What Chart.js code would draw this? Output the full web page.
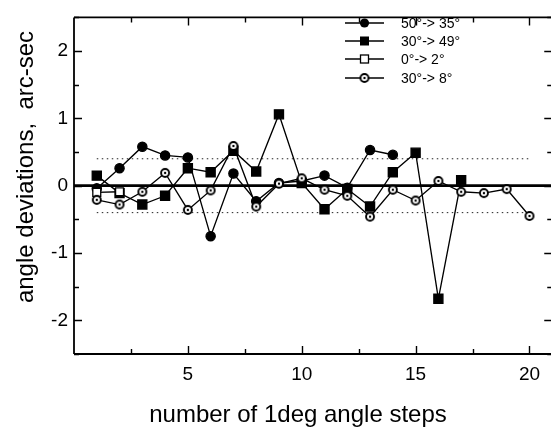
<!DOCTYPE html>
<html><head><meta charset="utf-8">
<script src="https://cdn.jsdelivr.net/npm/chart.js@4.4.0/dist/chart.umd.min.js"></script>
<style>
html,body{margin:0;padding:0;background:#fff;overflow:hidden;width:551px;height:429px}
#wrap{position:relative;width:560px;height:429px}
</style>
</head><body><div id="wrap"><canvas id="c" width="560" height="429"></canvas></div>
<script>
// ---- data ----
const stepsA = [1,2,3,4,5,6,7,8,9,10,11,12,13,14];                 // 50° -> 35°
const dev50to35 = [-0.04,0.26,0.58,0.45,0.42,-0.75,0.18,-0.23,0.04,0.07,0.15,-0.03,0.53,0.46];
const stepsB = [1,2,3,4,5,6,7,8,9,10,11,12,13,14,15,16,17];      // 30° -> 49°
const dev30to49 = [0.15,-0.11,-0.28,-0.15,0.26,0.2,0.52,0.21,1.06,0.04,-0.35,-0.05,-0.31,0.2,0.49,-1.68,0.08];
const stepsC = [1,2];                                             // 0° -> 2°
const dev0to2 = [-0.1,-0.09];
const stepsD = [1,2,3,4,5,6,7,8,9,10,11,12,13,14,15,16,17,18,19,20]; // 30° -> 8°
const dev30to8 = [-0.21,-0.28,-0.09,0.19,-0.36,-0.07,0.59,-0.31,0.03,0.11,-0.06,-0.15,-0.46,-0.06,-0.22,0.07,-0.09,-0.11,-0.05,-0.45];
const seriesNames = ['50°-> 35°','30°-> 49°','0°-> 2°','30°-> 8°'];
const bandLimits = [0.4,-0.4];
const bandSteps = [1,20];
const zeroSteps = [0,21];
const xTickLabels = [5,10,15,20];
const yTickLabels = [-2,-1,0,1,2];
const xTitle = 'number of 1deg angle steps';
const yTitle = 'angle deviations,  arc-sec';

const FONT = "'Liberation Sans', Arial, sans-serif";
const pts = (xs, ys) => xs.map((x,i)=>({x, y: ys[i]}));

// circle with centre dot marker
function dotCircle(r){
  const c = document.createElement('canvas');
  const s = Math.ceil(r*2+4); c.width = s; c.height = s;
  const g = c.getContext('2d');
  g.beginPath(); g.arc(s/2, s/2, r, 0, Math.PI*2);
  g.fillStyle = '#fff'; g.fill(); g.lineWidth = 1.9; g.strokeStyle = '#000'; g.stroke();
  g.beginPath(); g.arc(s/2, s/2, 1.2, 0, Math.PI*2); g.fillStyle='#000'; g.fill();
  return c;
}
const dotImg = dotCircle(4);

const base = {borderColor:'#000', borderWidth:1.35, tension:0, showLine:true, fill:false};
const datasets = [
  {...base, label: seriesNames[0], data: pts(stepsA, dev50to35), pointStyle:'circle', pointRadius:4.6, backgroundColor:'#000', pointBorderColor:'#000', order:4},
  {...base, label: seriesNames[1], data: pts(stepsB, dev30to49), pointStyle:'rect', pointRadius:6.4, backgroundColor:'#000', pointBorderColor:'#000', order:3},
  {...base, label: seriesNames[2], data: pts(stepsC, dev0to2), pointStyle:'rect', pointRadius:5.6, backgroundColor:'#fff', pointBorderColor:'#000', pointBorderWidth:1.3, order:2},
  {...base, label: seriesNames[3], data: pts(stepsD, dev30to8), pointStyle: dotImg, pointRadius:4, backgroundColor:'#fff', order:1},
  {label:'zero', data: pts(zeroSteps, [0,0]), borderColor:'#000', borderWidth:2.8, pointRadius:0, showLine:true, order:10},
  {label:'band+', data: pts(bandSteps, [bandLimits[0],bandLimits[0]]), borderColor:'#222', borderWidth:1, borderDash:[1.5,3.5], pointRadius:0, showLine:true, order:9},
  {label:'band-', data: pts(bandSteps, [bandLimits[1],bandLimits[1]]), borderColor:'#222', borderWidth:1, borderDash:[1.5,3.5], pointRadius:0, showLine:true, order:9}
];

const decor = {
  id:'decor',
  afterDraw(chart){
    const ctx = chart.ctx, a = chart.chartArea;
    const xs = chart.scales.x, ys = chart.scales.y;
    ctx.save();
    ctx.strokeStyle = '#000'; ctx.lineWidth = 1.8;
    ctx.beginPath();
    ctx.moveTo(a.left, a.top); ctx.lineTo(a.right, a.top);
    ctx.moveTo(a.left, a.top); ctx.lineTo(a.left, a.bottom);
    ctx.moveTo(a.left, a.bottom); ctx.lineTo(a.right, a.bottom);
    ctx.moveTo(a.right, a.top); ctx.lineTo(a.right, a.bottom);
    ctx.stroke();
    ctx.lineWidth = 1.4;
    ctx.beginPath();
    for (let v = -2.5; v <= 2.5; v += 0.5){
      const y = Math.round(ys.getPixelForValue(v))+0.5;
      const len = Number.isInteger(v) ? 8 : 5;
      ctx.moveTo(a.left, y); ctx.lineTo(a.left+len, y);
      ctx.moveTo(a.right, y); ctx.lineTo(a.right-len, y);
    }
    for (let v = 2.5; v <= 20; v += 2.5){
      const x = Math.round(xs.getPixelForValue(v))+0.5;
      const len = (v % 5 === 0) ? 8 : 5;
      ctx.moveTo(x, a.bottom); ctx.lineTo(x, a.bottom-len);
      ctx.moveTo(x, a.top); ctx.lineTo(x, a.top+len);
    }
    ctx.stroke();
    // legend
    const rows = [23, 41, 59, 78];
    ctx.font = '14px ' + FONT; ctx.fillStyle = '#000'; ctx.textBaseline = 'middle'; ctx.textAlign='left';
    for (let i=0;i<4;i++){
      const ds = chart.data.datasets[i], y = rows[i];
      ctx.lineWidth = 1.3; ctx.strokeStyle='#000';
      ctx.beginPath(); ctx.moveTo(345, y); ctx.lineTo(384, y); ctx.stroke();
      if (i===0){ ctx.beginPath(); ctx.arc(364.5,y,4.6,0,Math.PI*2); ctx.fillStyle='#000'; ctx.fill(); }
      else if (i===1){ ctx.fillStyle='#000'; ctx.fillRect(360,y-4.5,9,9); }
      else if (i===2){ ctx.fillStyle='#fff'; ctx.fillRect(360.5,y-4,8,8); ctx.strokeRect(360.5,y-4,8,8); }
      else { ctx.drawImage(dotImg, 364.5-dotImg.width/2, y-dotImg.height/2); }
      ctx.fillStyle='#000';
      ctx.fillText(ds.label, 401, y+1);
    }
    // titles
    ctx.font = '24px ' + FONT; ctx.textAlign='center'; ctx.textBaseline='alphabetic';
    ctx.fillText(xTitle, 298, 422);
    ctx.save(); ctx.translate(33, 167); ctx.rotate(-Math.PI/2);
    ctx.fillText(yTitle, 0, 0); ctx.restore();
    ctx.restore();
  }
};

new Chart(document.getElementById('c'), {
  type:'scatter',
  data:{datasets},
  options:{
    responsive:false, animation:false, devicePixelRatio:1,
    layout:{padding:{top:14, right:5, left:0, bottom:0}},
    plugins:{legend:{display:false}, tooltip:{enabled:false}},
    scales:{
      x:{type:'linear', min:0, max:21,
        afterBuildTicks(s){ s.ticks = xTickLabels.map(v=>({value:v})); },
        afterFit(s){ s.height = 75; },
        grid:{display:false, drawTicks:false}, border:{display:false},
        ticks:{padding:9, color:'#000', font:{family:FONT, size:19}, maxRotation:0}},
      y:{type:'linear', min:-2.5, max:2.5,
        afterBuildTicks(s){ s.ticks = yTickLabels.map(v=>({value:v})); },
        afterFit(s){ s.width = 74; },
        grid:{display:false, drawTicks:false}, border:{display:false},
        ticks:{padding:6, color:'#000', font:{family:FONT, size:19}}}
    }
  },
  plugins:[decor]
});
</script>
</body></html>
